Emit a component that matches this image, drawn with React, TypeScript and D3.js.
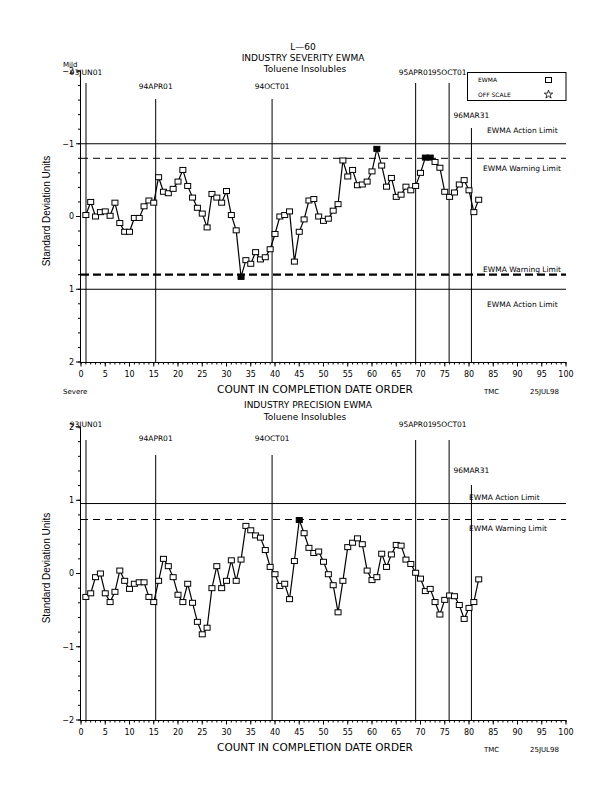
import React from "react";
import * as d3 from "d3";

// ---------- data ----------
const severity = [
  -0.02, -0.2, 0.0, -0.06, -0.07, -0.01, -0.19, 0.09, 0.21, 0.21,
  0.02, 0.02, -0.14, -0.22, -0.19, -0.54, -0.34, -0.32, -0.38, -0.48,
  -0.64, -0.42, -0.26, -0.12, -0.04, 0.15, -0.31, -0.26, -0.19, -0.35,
  -0.02, 0.19, 0.83, 0.6, 0.65, 0.49, 0.59, 0.56, 0.45, 0.24,
  0.0, -0.02, -0.07, 0.62, 0.21, 0.04, -0.22, -0.24, 0.0, 0.06,
  0.03, -0.08, -0.17, -0.77, -0.55, -0.64, -0.43, -0.44, -0.48, -0.62,
  -0.93, -0.7, -0.41, -0.53, -0.27, -0.3, -0.41, -0.36, -0.42, -0.6,
  -0.81, -0.81, -0.75, -0.67, -0.34, -0.27, -0.33, -0.44, -0.5, -0.36,
  -0.06, -0.23,
];
const severityFilled = [33, 61, 71, 72];

const precision = [
  -0.32, -0.27, -0.05, 0.0, -0.27, -0.39, -0.25, 0.04, -0.1, -0.21,
  -0.14, -0.12, -0.12, -0.32, -0.39, -0.1, 0.2, 0.1, -0.05, -0.29,
  -0.39, -0.14, -0.4, -0.66, -0.83, -0.74, -0.2, 0.1, -0.2, -0.1,
  0.18, -0.1, 0.19, 0.65, 0.59, 0.52, 0.49, 0.32, 0.09, -0.01,
  -0.17, -0.14, -0.35, 0.17, 0.73, 0.55, 0.35, 0.28, 0.3, 0.16,
  -0.01, -0.16, -0.53, -0.1, 0.36, 0.42, 0.48, 0.4, 0.04, -0.09,
  -0.05, 0.27, 0.09, 0.26, 0.39, 0.38, 0.19, 0.13, 0.01, -0.07,
  -0.24, -0.21, -0.39, -0.56, -0.36, -0.3, -0.31, -0.43, -0.62, -0.47,
  -0.39, -0.08,
];
const precisionFilled = [45];

const eventLabels = ["93JUN01", "94APR01", "94OCT01", "95APR01", "95OCT01", "96MAR31"];
const eventCounts = [1.03, 15.4, 39.4, 69.0, 75.9, 80.5];
const eventRows = [0, 1, 1, 0, 0, 2];

const severityLimits = [
  { value: -1.0, kind: "action", label: "EWMA Action Limit" },
  { value: -0.8, kind: "warning", label: "EWMA Warning Limit" },
  { value: 0.8, kind: "warningBold", label: "EWMA Warning Limit" },
  { value: 1.0, kind: "action", label: "EWMA Action Limit" },
];
const precisionLimits = [
  { value: 0.955, kind: "action", label: "EWMA Action Limit" },
  { value: 0.737, kind: "warning", label: "EWMA Warning Limit" },
];

const yTicks = [-2, -1, 0, 1, 2];
const xTicks = d3.range(0, 101, 5);

const FONT = "DejaVu Sans";

type Limit = { value: number; kind: string; label: string };

function fmt(v: number) {
  return v < 0 ? "\u2212" + Math.abs(v) : String(v);
}

function Panel(props: {
  values: number[];
  filled: number[];
  limits: Limit[];
  y: d3.ScaleLinear<number, number>;
  rowLabelY: number[];
  rowLineY: number[];
  limitLabelPos: { x: number; dy: number }[];
  yLabelCenter: number;
}) {
  const { values, filled, limits, y, rowLabelY, rowLineY, limitLabelPos, yLabelCenter } = props;
  const x = d3.scaleLinear().domain([0, 100]).range([81, 566]);
  const [r0, r1] = y.range();
  const yTop = Math.min(r0, r1);
  const yBot = Math.max(r0, r1);
  const pts = values.map((v, i) => [x(i + 1), y(v)] as [number, number]);
  const line = d3.line()(pts) || "";
  const minorY = d3.range(-2, 2.0001, 0.2);
  const minorX = d3.range(0, 101, 1);

  return (
    <g>
      {/* y axis */}
      <line x1={80.5} x2={80.5} y1={yTop} y2={yBot} stroke="#000" />
      {minorY.map((t, i) => (
        <line key={"my" + i} x1={78} x2={80.5} y1={y(t)} y2={y(t)} stroke="#000" />
      ))}
      {yTicks.map((t) => (
        <g key={"yt" + t}>
          <line x1={76} x2={80.5} y1={y(t)} y2={y(t)} stroke="#000" />
          <text x={74} y={y(t)} dy="0.35em" textAnchor="end" fontSize={8} fontFamily={FONT}>
            {fmt(t)}
          </text>
        </g>
      ))}
      <text
        transform={`translate(50,${yLabelCenter}) rotate(-90)`}
        textAnchor="middle"
        fontSize={10}
        fontFamily="Liberation Sans"
      >
        Standard Deviation Units
      </text>
      {/* x axis */}
      <line x1={80} x2={566} y1={yBot + 0.5} y2={yBot + 0.5} stroke="#000" />
      {minorX.map((t) => (
        <line key={"mx" + t} x1={x(t)} x2={x(t)} y1={yBot} y2={yBot + 2.5} stroke="#000" />
      ))}
      {xTicks.map((t) => (
        <g key={"xt" + t}>
          <line x1={x(t)} x2={x(t)} y1={yBot} y2={yBot + 4.5} stroke="#000" />
          <text x={x(t)} y={yBot + 12} dy="0.35em" textAnchor="middle" fontSize={8} fontFamily={FONT}>
            {t}
          </text>
        </g>
      ))}
      <text x={315} y={yBot + 27} dy="0.35em" textAnchor="middle" fontSize={10.5} fontFamily={FONT}>
        COUNT IN COMPLETION DATE ORDER
      </text>
      <text x={484} y={yBot + 30} dy="0.35em" fontSize={7} fontFamily={FONT}>
        TMC
      </text>
      <text x={530} y={yBot + 30} dy="0.35em" fontSize={7} fontFamily={FONT}>
        25JUL98
      </text>
      {/* limits */}
      {limits.map((l, i) => {
        const yy = y(l.value);
        const dash = l.kind === "action" ? undefined : l.kind === "warningBold" ? "8,4" : "7,5";
        const sw = l.kind === "warningBold" ? 2.2 : 1;
        return (
          <g key={"lim" + i}>
            <line x1={81} x2={566} y1={yy} y2={yy} stroke="#000" strokeWidth={sw} strokeDasharray={dash} />
            <text
              x={limitLabelPos[i].x}
              y={yy + limitLabelPos[i].dy}
              dy="0.35em"
              fontSize={7.5}
              fontFamily={FONT}
            >
              {l.label}
            </text>
          </g>
        );
      })}
      {/* event lines */}
      {eventLabels.map((lab, i) => (
        <g key={"ev" + i}>
          <line
            x1={x(eventCounts[i])}
            x2={x(eventCounts[i])}
            y1={rowLineY[eventRows[i]]}
            y2={yBot}
            stroke="#000"
          />
          <text
            x={x(eventCounts[i])}
            y={rowLabelY[eventRows[i]]}
            dy="0.35em"
            textAnchor="middle"
            fontSize={7.5}
            fontFamily={FONT}
          >
            {lab}
          </text>
        </g>
      ))}
      {/* series */}
      <path d={line} fill="none" stroke="#000" strokeWidth={1.2} />
      {pts.map(([px, py], i) => {
        const isFilled = filled.includes(i + 1);
        return (
          <rect
            key={"p" + i}
            x={px - 3}
            y={py - 2.5}
            width={6}
            height={5}
            fill={isFilled ? "#000" : "#fff"}
            stroke="#000"
            strokeWidth={1}
          />
        );
      })}
    </g>
  );
}

export default function App() {
  const yTopChart = d3.scaleLinear().domain([-2, 2]).range([71, 362]);
  const yBottomChart = d3.scaleLinear().domain([2, -2]).range([427, 720]);
  const star = d3.symbol(d3.symbolStar, 22)() || "";
  return (
    <svg
      width={616}
      height={792}
      viewBox="0 0 616 792"
      style={{ position: "absolute", left: 0, top: 0, background: "#fff" }}
    >
      <rect width={616} height={792} fill="#fff" />
      {/* titles */}
      <text x={303} y={47} dy="0.35em" textAnchor="middle" fontSize={9} fontFamily={FONT}>
        L{"\u2014"}60
      </text>
      <text x={303} y={58} dy="0.35em" textAnchor="middle" fontSize={9} fontFamily={FONT}>
        INDUSTRY SEVERITY EWMA
      </text>
      <text x={305} y={69} dy="0.35em" textAnchor="middle" fontSize={9} fontFamily={FONT}>
        Toluene Insolubles
      </text>
      <text x={63} y={65} dy="0.35em" fontSize={7} fontFamily={FONT}>
        Mild
      </text>
      <text x={63} y={392} dy="0.35em" fontSize={7} fontFamily={FONT}>
        Severe
      </text>
      <text x={308} y={405} dy="0.35em" textAnchor="middle" fontSize={9} fontFamily={FONT}>
        INDUSTRY PRECISION EWMA
      </text>
      <text x={305} y={417} dy="0.35em" textAnchor="middle" fontSize={9} fontFamily={FONT}>
        Toluene Insolubles
      </text>

      <Panel
        values={severity}
        filled={severityFilled}
        limits={severityLimits}
        y={yTopChart}
        rowLabelY={[72, 86, 115]}
        rowLineY={[83, 99, 128]}
        limitLabelPos={[
          { x: 487, dy: -13 },
          { x: 483, dy: 10 },
          { x: 483, dy: -5 },
          { x: 487, dy: 15 },
        ]}
        yLabelCenter={211}
      />
      <Panel
        values={precision}
        filled={precisionFilled}
        limits={precisionLimits}
        y={yBottomChart}
        rowLabelY={[424, 438, 470]}
        rowLineY={[440, 455, 485]}
        limitLabelPos={[
          { x: 469, dy: -6 },
          { x: 469, dy: 9 },
        ]}
        yLabelCenter={568}
      />

      {/* legend */}
      <rect x={467.5} y={72.5} width={98.5} height={28} fill="#fff" stroke="#000" />
      <text x={478} y={80} dy="0.35em" fontSize={6} fontFamily={FONT}>
        EWMA
      </text>
      <rect x={545.5} y={77.5} width={6} height={5} fill="#fff" stroke="#000" />
      <text x={478} y={95} dy="0.35em" fontSize={6} fontFamily={FONT}>
        OFF SCALE
      </text>
      <path d={star} transform="translate(548.5,94.5)" fill="none" stroke="#000" strokeWidth={0.8} />
    </svg>
  );
}
